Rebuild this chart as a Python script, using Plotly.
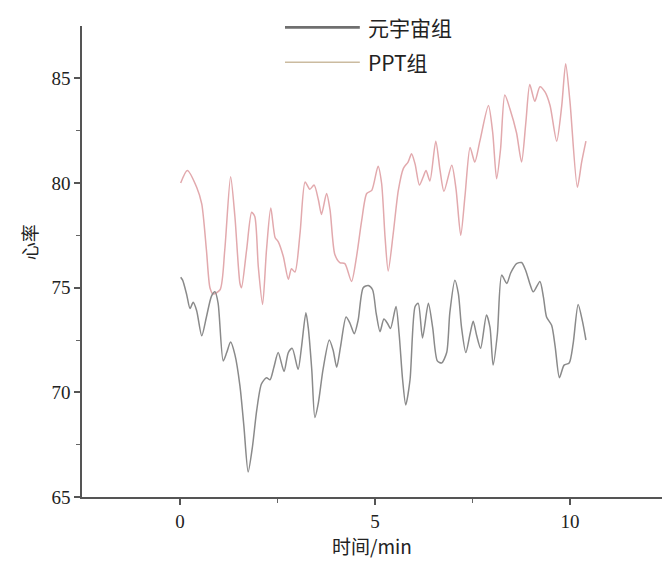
import plotly.graph_objects as go

# Heart-rate traces over time (minutes) for the two groups
t_meta = [0.02, 0.07, 0.17, 0.26, 0.34, 0.43, 0.56, 0.68, 0.81, 0.90, 0.98, 1.11, 1.20, 1.30,
          1.41, 1.54, 1.64, 1.75, 1.86, 1.97, 2.09, 2.22, 2.31, 2.41, 2.52, 2.67, 2.78, 2.88,
          3.03, 3.12, 3.23, 3.29, 3.38, 3.46, 3.55, 3.67, 3.83, 3.93, 4.02, 4.12, 4.26, 4.36,
          4.47, 4.57, 4.70, 4.83, 4.94, 5.03, 5.13, 5.23, 5.32, 5.40, 5.54, 5.62, 5.71, 5.79,
          5.90, 6.03, 6.11, 6.22, 6.37, 6.48, 6.60, 6.71, 6.84, 6.92, 7.05, 7.14, 7.22, 7.33,
          7.44, 7.52, 7.61, 7.71, 7.86, 7.95, 8.03, 8.14, 8.25, 8.38, 8.48, 8.63, 8.76, 8.87,
          8.97, 9.06, 9.23, 9.32, 9.40, 9.53, 9.62, 9.73, 9.85, 9.98, 10.08, 10.21, 10.32, 10.41]
hr_meta = [75.5, 75.36, 74.7, 74.0, 74.3, 73.9, 72.7, 73.6, 74.6, 74.8, 74.25, 71.5, 71.9, 72.4,
           71.8, 70.3, 68.4, 66.2, 67.4, 69.15, 70.4, 70.7, 70.6, 71.2, 71.9, 71.0, 71.9, 72.1,
           71.1, 72.2, 73.8, 73.1, 71.1, 68.8, 69.5, 71.1, 72.5, 72.0, 71.2, 72.2, 73.6, 73.3,
           72.8, 73.45, 75.0, 75.1, 74.9, 73.8, 72.9, 73.5, 73.3, 73.05, 74.1, 72.8, 70.6, 69.4,
           70.6, 74.1, 74.25, 72.6, 74.25, 73.1, 71.5, 71.4, 71.9, 73.8, 75.36, 74.7, 73.1, 71.9,
           72.8, 73.4, 72.7, 72.1, 73.7, 73.1, 71.3, 72.8, 75.6, 75.2, 75.7, 76.15, 76.2, 75.8,
           75.2, 74.8, 75.3, 74.55, 73.6, 73.2, 72.2, 70.7, 71.3, 71.4, 72.3, 74.2, 73.4, 72.5]

t_ppt = [0.02, 0.19, 0.43, 0.56, 0.68, 0.77, 0.85, 1.03, 1.15, 1.30, 1.41, 1.54, 1.58, 1.71,
         1.84, 1.92, 2.01, 2.12, 2.22, 2.33, 2.44, 2.52, 2.65, 2.78, 2.86, 2.95, 3.08, 3.21,
         3.33, 3.44, 3.55, 3.63, 3.76, 3.85, 3.97, 4.10, 4.23, 4.40, 4.53, 4.66, 4.79, 4.92,
         5.08, 5.17, 5.26, 5.34, 5.47, 5.60, 5.73, 5.85, 5.94, 6.03, 6.14, 6.24, 6.31, 6.41,
         6.56, 6.67, 6.77, 6.97, 7.08, 7.20, 7.31, 7.44, 7.56, 7.69, 7.91, 8.02, 8.12, 8.22,
         8.33, 8.46, 8.63, 8.76, 8.87, 8.97, 9.10, 9.23, 9.36, 9.49, 9.66, 9.79, 9.89, 10.00,
         10.19, 10.30, 10.41]
hr_ppt = [80.0, 80.6, 79.8, 79.0, 76.8, 75.0, 74.7, 74.9, 76.8, 80.3, 78.4, 75.2, 75.0, 76.8,
          78.6, 78.4, 76.0, 74.2, 76.8, 78.8, 77.4, 77.2, 76.5, 75.4, 75.9, 75.75, 77.6, 80.05,
          79.7, 79.9, 79.2, 78.5, 79.5, 78.7, 76.6, 76.2, 76.15, 75.3, 76.5, 78.2, 79.5, 79.65,
          80.8, 80.0, 77.4, 75.8, 77.6, 79.65, 80.7, 81.0, 81.4, 80.9, 79.9, 80.3, 80.6, 80.1,
          82.0, 80.6, 79.6, 80.85, 79.7, 77.5, 79.4, 81.7, 81.0, 82.0, 83.7, 82.4, 80.2, 81.6,
          84.2, 83.55, 82.4, 81.0, 82.9, 84.7, 83.9, 84.6, 84.35, 83.7, 82.0, 83.7, 85.7, 83.9,
          79.8, 81.0, 82.0]

x_ticks = [0, 5, 10]
y_ticks = [65, 70, 75, 80, 85]
series_names = ["元宇宙组", "PPT组"]

META_COLOR = "#8a8a8a"
PPT_COLOR = "#e2a9ad"

fig = go.Figure()
fig.add_trace(go.Scatter(x=t_ppt, y=hr_ppt, mode="lines", name=series_names[1],
                         line=dict(color=PPT_COLOR, width=1.5, shape="spline", smoothing=0.7),
                         showlegend=False))
fig.add_trace(go.Scatter(x=t_meta, y=hr_meta, mode="lines", name=series_names[0],
                         line=dict(color=META_COLOR, width=1.5, shape="spline", smoothing=0.7),
                         showlegend=False))

axis_font = dict(family="Liberation Serif, Times New Roman, serif", size=19, color="#222")
cjk_font = dict(family="Noto Sans CJK SC, sans-serif", size=19, color="#222")
legend_font = dict(family="Noto Sans CJK SC, sans-serif", size=21, color="#222")

fig.update_xaxes(range=[-2.51, 12.36], tickvals=x_ticks, ticks="outside", ticklen=6,
                 tickwidth=1.5, tickcolor="#555", showline=True, linecolor="#555", linewidth=1.5,
                 showgrid=False, zeroline=False, tickfont=axis_font,
                 minor=dict(tickvals=[2.5, 7.5], ticks="outside", ticklen=4, tickcolor="#666",
                            tickwidth=1.2, showgrid=False),
                 title=dict(text="时间/min", font=cjk_font, standoff=4))
fig.update_yaxes(range=[65, 87.5], tickvals=y_ticks, ticks="outside", ticklen=6,
                 tickwidth=1.5, tickcolor="#555", showline=True, linecolor="#555", linewidth=1.5,
                 showgrid=False, zeroline=False, tickfont=axis_font,
                 minor=dict(tickvals=[67.5, 72.5, 77.5, 82.5], ticks="outside", ticklen=4,
                            tickcolor="#666", tickwidth=1.2, showgrid=False))

# Y-axis title placed a little above the axis midpoint
fig.add_annotation(xref="paper", yref="paper", x=-0.092, y=0.54, text="心率", textangle=-90,
                   showarrow=False, xanchor="center", yanchor="middle",
                   font=dict(family="Noto Sans CJK SC, sans-serif", size=18, color="#222"))

# Hand-placed legend: long line samples with labels beside them
legend_rows = [(0.997, "#6f6f6f", 2.6, series_names[0]), (0.923, "#cbbba0", 1.6, series_names[1])]
for ypos, col, w, label in legend_rows:
    fig.add_shape(type="line", xref="paper", yref="paper", x0=0.35, x1=0.479, y0=ypos, y1=ypos,
                  line=dict(color=col, width=w))
    fig.add_annotation(xref="paper", yref="paper", x=0.49, y=ypos, text=label, showarrow=False,
                       xanchor="left", yanchor="middle", font=legend_font)

fig.update_layout(width=662, height=565, margin=dict(l=82, r=0, t=26, b=68),
                  plot_bgcolor="white", paper_bgcolor="white")

fig.write_html("out.html")
